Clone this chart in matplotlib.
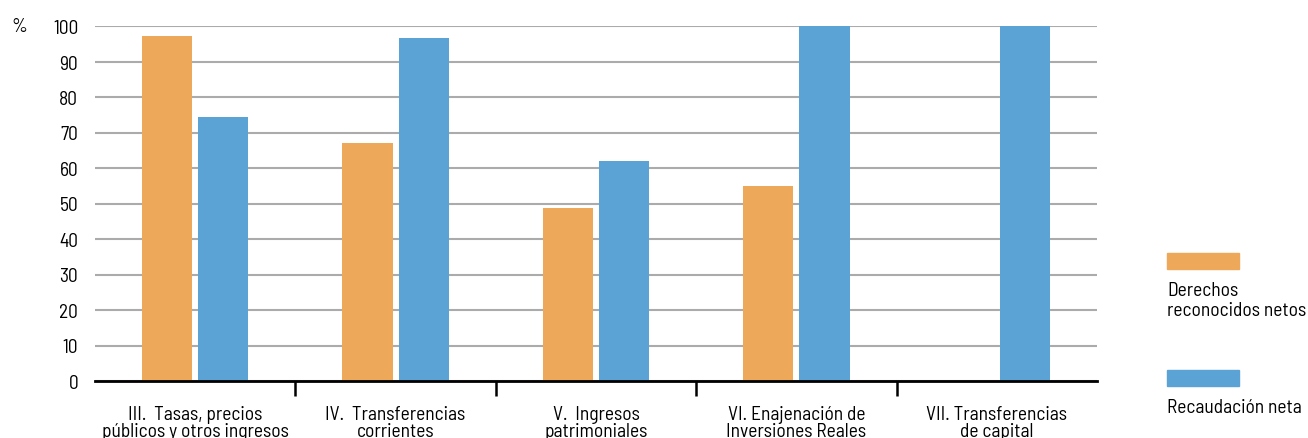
import numpy as np
import matplotlib.pyplot as plt
import matplotlib as mpl
from matplotlib.patches import Rectangle

mpl.rcParams['font.family'] = ['Barlow Semi Condensed', 'Fira Sans Condensed', 'DejaVu Sans']

# Data
categories = ['III.  Tasas, precios\npúblicos y otros ingresos',
              'IV.  Transferencias\ncorrientes',
              'V.  Ingresos\npatrimoniales',
              'VI. Enajenación de\nInversiones Reales',
              'VII. Transferencias\nde capital']
derechos = [97.3, 67.0, 48.8, 55.0, 0]
recaudacion = [74.5, 96.7, 62.0, 100, 100]
yticks = [0, 10, 20, 30, 40, 50, 60, 70, 80, 90, 100]

orange = '#EDA85A'
blue = '#5CA3D5'
fs = 14

fig = plt.figure(figsize=(13.08, 4.39), dpi=100, facecolor='white')
ax = fig.add_axes([95 / 1308, 57 / 439, 1002 / 1308, 355 / 439])

x = np.arange(len(categories)) + 0.5
w = 0.25
ax.bar(x - 0.14, derechos, w, color=orange, zorder=3)
ax.bar(x + 0.14, recaudacion, w, color=blue, zorder=3)

ax.set_xlim(0, len(categories))
ax.set_ylim(0, 100)

# grid
ax.set_yticks(yticks)
ax.yaxis.grid(True, color='#ABABAB', linewidth=1.5)
ax.set_axisbelow(True)
ax.tick_params(axis='y', length=0, pad=12, labelsize=fs)

# x ticks: boundaries as major ticks, labels at group centres
ax.set_xticks(np.arange(1, len(categories)))
ax.set_xticklabels([])
ax.tick_params(axis='x', which='major', length=11, width=1.8, color='black')
ax.set_xticks(x, minor=True)
ax.set_xticklabels(categories, minor=True, fontsize=fs, linespacing=0.95)
ax.tick_params(axis='x', which='minor', length=0, pad=17)

for s in ['top', 'right', 'left']:
    ax.spines[s].set_visible(False)
ax.spines['bottom'].set_linewidth(2)
ax.spines['bottom'].set_zorder(4)

fig.text(11 / 1308, 1 - 27 / 439, '%', fontsize=fs, va='center', ha='left')

# legend
fig.patches.append(Rectangle((1167 / 1308, 1 - 270 / 439), 72 / 1308, 16 / 439,
                             transform=fig.transFigure, color=orange))
fig.text(1167 / 1308, 1 - 301 / 439, 'Derechos\nreconocidos netos', fontsize=fs,
         va='center', ha='left', linespacing=1.2)
fig.patches.append(Rectangle((1167 / 1308, 1 - 387 / 439), 72 / 1308, 16 / 439,
                             transform=fig.transFigure, color=blue))
fig.text(1167 / 1308, 1 - 408 / 439, 'Recaudación neta', fontsize=fs,
         va='center', ha='left')

plt.savefig('out.png', dpi=100, facecolor='white')
